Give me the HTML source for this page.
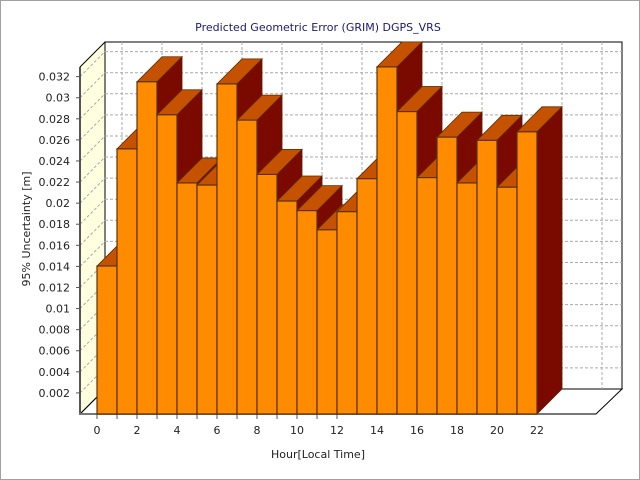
<!DOCTYPE html>
<html><head><meta charset="utf-8"><style>
body{margin:0;background:#fff}
svg{display:block;font-family:"DejaVu Sans","Liberation Sans",sans-serif}
</style></head><body>
<svg id="s" width="640" height="480" xmlns="http://www.w3.org/2000/svg">
<rect x="0.5" y="0.5" width="639" height="479" fill="#fff" stroke="#a0a0a0"/>
<text x="318" y="31" font-size="11" fill="#1a1a6e" text-anchor="middle">Predicted Geometric Error (GRIM) DGPS_VRS</text>
<text x="318" y="458" font-size="11" fill="#222" text-anchor="middle">Hour[Local Time]</text>
<text transform="translate(30,229) rotate(-90)" font-size="11" fill="#222" text-anchor="middle">95% Uncertainty [m]</text>
<g id="g"></g>
<g font-size="11" fill="#222" text-anchor="end" id="yl"></g>
<g font-size="11" fill="#222" text-anchor="middle" id="xl"></g>
</svg>
<script>
var g=document.getElementById('g'),h='';
function Y(v){return 414-v*10543;}
h+='<polygon points="80,414 80,67 105,42 105,389" fill="#ffffe0" stroke="none"/>';
h+='<rect x="105" y="42" width="517" height="347" fill="#fff" stroke="#000"/>';
h+='<polygon points="80,414 596,414 622,389 105,389" fill="#fff" stroke="#000" stroke-width="1"/>';
for(var k=1;k<=16;k++){var v=k*0.002,y=Y(v);
 h+='<line x1="80" y1="'+y+'" x2="105" y2="'+(y-25)+'" stroke="#aaa" stroke-dasharray="3,2"/>';
 h+='<line x1="105" y1="'+(y-25)+'" x2="622" y2="'+(y-25)+'" stroke="#aaa" stroke-dasharray="3,2"/>';}
for(var k=0;k<=12;k++){var x=122+40*k;
 h+='<line x1="'+x+'" y1="42" x2="'+x+'" y2="389" stroke="#aaa" stroke-dasharray="3,2"/>';}
h+='<line x1="80" y1="414" x2="105" y2="389" stroke="#000"/>';
h+='<line x1="80" y1="67" x2="105" y2="42" stroke="#000"/>';
h+='<line x1="80" y1="67" x2="80" y2="414" stroke="#555" stroke-width="2"/>';
h+='<line x1="79" y1="414" x2="596" y2="414" stroke="#777" stroke-width="2"/>';
for(var k=1;k<=16;k++){var y=Y(k*0.002);h+='<line x1="76" y1="'+y+'" x2="80" y2="'+y+'" stroke="#555"/>';}
for(var k=0;k<=12;k++){var x=97+20*k;h+='<line x1="'+x+'" y1="414" x2="'+x+'" y2="419" stroke="#555"/>';}
var d=[.0139,.0249,.0312,.0281,.0217,.0215,.0310,.0276,.0225,.0200,.0191,.0173,.0190,.0221,.0326,.0284,.0222,.0260,.0217,.0257,.0213,.0265];
for(var i=0;i<d.length;i++){var x0=97+20*i,x1=x0+20,y=Y(d[i]*1.01);
 h+='<polygon points="'+x1+','+y+' '+(x1+25)+','+(y-25)+' '+(x1+25)+',389 '+x1+',414" fill="#7a0a00" stroke="#5a1800" stroke-width="0.8"/>';
 h+='<polygon points="'+x0+','+y+' '+(x0+25)+','+(y-25)+' '+(x1+25)+','+(y-25)+' '+x1+','+y+'" fill="#c45200" stroke="#5a2a00" stroke-width="0.8"/>';
 h+='<rect x="'+x0+'" y="'+y+'" width="20" height="'+(414-y)+'" fill="#ff8c00" stroke="#5a3010" stroke-width="1.2"/>';}
g.innerHTML=h;
var yl=document.getElementById('yl'),s='';
var labs=['0.002','0.004','0.006','0.008','0.01','0.012','0.014','0.016','0.018','0.02','0.022','0.024','0.026','0.028','0.03','0.032'];
for(var k=0;k<labs.length;k++){s+='<text x="70" y="'+(Y((k+1)*0.002)+4)+'">'+labs[k]+'</text>';}
yl.innerHTML=s;
var xl=document.getElementById('xl');s='';
for(var k=0;k<=11;k++){s+='<text x="'+(97+40*k)+'" y="434">'+(2*k)+'</text>';}
xl.innerHTML=s;
</script>
</body></html>
